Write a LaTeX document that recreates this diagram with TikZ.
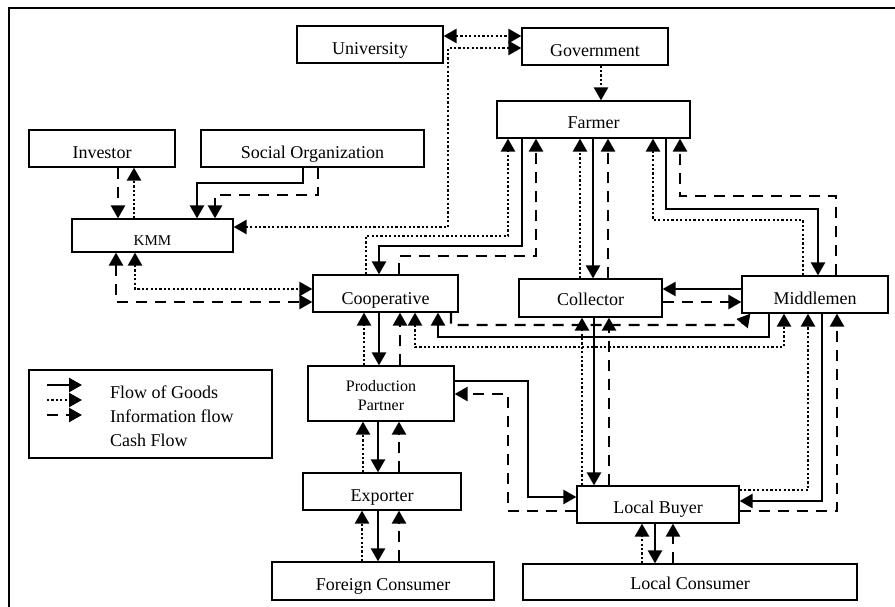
\documentclass[tikz,border=0pt]{standalone}
\usepackage{fontspec}
\setmainfont{Liberation Serif}
\usetikzlibrary{arrows.meta}
\begin{document}
\begin{tikzpicture}[x=1pt,y=-1pt,
  box/.style={draw,line width=1.2pt,inner sep=0pt},
  lbl/.style={anchor=base,inner sep=0pt,font=\fontsize{18}{20}\selectfont},
  goods/.style={line width=2.4pt},
  info/.style={line width=2.4pt,dash pattern=on 2.2pt off 2.2pt},
  cash/.style={line width=2.4pt,dash pattern=on 11pt off 8pt},
  >={Triangle[length=13pt,width=14pt]}]
\useasboundingbox (0,0) rectangle (895,607);
% outer frame
\draw[line width=1.3pt] (9,611) -- (9,8) -- (899,8);

% boxes
\node[box,minimum width=146,minimum height=37] (uni) at (370,44.5) {};
\node[box,minimum width=146,minimum height=37] (gov) at (595,46.5) {};
\node[box,minimum width=193,minimum height=37] (farmer) at (593.5,119.5) {};
\node[box,minimum width=146,minimum height=37] (investor) at (102,148.5) {};
\node[box,minimum width=223,minimum height=37] (socorg) at (312.5,148.5) {};
\node[box,minimum width=161,minimum height=33] (kmm) at (152.5,235.5) {};
\node[box,minimum width=145,minimum height=37] (coop) at (385.5,293.5) {};
\node[box,minimum width=143,minimum height=38] (collector) at (590.5,298) {};
\node[box,minimum width=146,minimum height=37] (middle) at (815,294.5) {};
\node[box,minimum width=146,minimum height=55] (pp) at (381,393.5) {};
\node[box,minimum width=158,minimum height=37] (exporter) at (382,491.5) {};
\node[box,minimum width=222,minimum height=38] (fc) at (383,581) {};
\node[box,minimum width=162,minimum height=37] (lb) at (658,504.5) {};
\node[box,minimum width=334,minimum height=36] (lc) at (690,582) {};
\node[box,minimum width=243,minimum height=88] (legend) at (150.5,414) {};

% labels
\node[lbl] at (370,54.5) {University};
\node[lbl] at (595,57) {Government};
\node[lbl] at (593.5,129) {Farmer};
\node[lbl] at (102,159) {Investor};
\node[lbl] at (312.5,159) {Social Organization};
\node[lbl,font=\fontsize{15}{17}\selectfont] at (152.5,245) {KMM};
\node[lbl] at (385.5,304) {Cooperative};
\node[lbl] at (590.5,305) {Collector};
\node[lbl] at (815,304) {Middlemen};
\node[lbl,font=\fontsize{16}{18}\selectfont] at (381,391) {Production};
\node[lbl,font=\fontsize{16}{18}\selectfont] at (381,410) {Partner};
\node[lbl] at (382,501) {Exporter};
\node[lbl] at (383,590) {Foreign Consumer};
\node[lbl] at (658,513) {Local Buyer};
\node[lbl] at (690,589) {Local Consumer};

% legend
\draw[goods,->] (47,385) -- (82,385);
\draw[info,->] (47,400) -- (82,400);
\draw[cash,->] (47,415) -- (82,415);
\node[lbl,anchor=base west] at (110,398) {Flow of Goods};
\node[lbl,anchor=base west] at (110,422) {Information flow};
\node[lbl,anchor=base west] at (110,446) {Cash Flow};

% university, government
\draw[info,<->] (uni.east |- 0,36) -- (gov.west |- 0,36);
\draw[info,<->] (gov.west |- 0,48) -- (448,48) |- (kmm.east |- 0,227);
\draw[info,->] (gov.south -| 601,0) -- (farmer.north -| 601,0);

% investor, social organization and KMM
\draw[cash,->] (investor.south -| 118,0) -- (kmm.north -| 118,0);
\draw[info,->] (kmm.north -| 134,0) -- (investor.south -| 134,0);
\draw[goods,->] (socorg.south -| 303,0) |- (197,183) -- (kmm.north -| 197,0);
\draw[cash,->] (socorg.south -| 318,0) |- (215,195) -- (kmm.north -| 215,0);
\draw[cash,<->] (kmm.south -| 116,0) |- (coop.west |- 0,302);
\draw[info,<->] (kmm.south -| 135,0) |- (coop.west |- 0,289);

% farmer and cooperative
\draw[goods,->] (farmer.south -| 522,0) |- (379,246) -- (coop.north -| 379,0);
\draw[cash,->] (coop.north -| 399,0) |- (536,256) -- (farmer.south -| 536,0);
\draw[info,->] (coop.north -| 366,0) |- (508,236) -- (farmer.south -| 508,0);

% farmer and collector
\draw[info,->] (collector.north -| 580,0) -- (farmer.south -| 580,0);
\draw[goods,->] (farmer.south -| 593,0) -- (collector.north -| 593,0);
\draw[cash,->] (collector.north -| 608,0) -- (farmer.south -| 608,0);

% farmer and middlemen
\draw[info,->] (middle.north -| 803,0) |- (653,220) -- (farmer.south -| 653,0);
\draw[goods,->] (farmer.south -| 666,0) |- (818,209) -- (middle.north -| 818,0);
\draw[cash,->] (middle.north -| 836,0) |- (680,196) -- (farmer.south -| 680,0);

% collector and middlemen
\draw[goods,->] (middle.west |- 0,289) -- (collector.east |- 0,289);
\draw[cash,->] (collector.east |- 0,302) -- (middle.west |- 0,302);

% cooperative and production partner
\draw[info,->] (pp.north -| 364,0) -- (coop.south -| 364,0);
\draw[goods,->] (coop.south -| 379,0) -- (pp.north -| 379,0);
\draw[cash,->] (pp.north -| 400,0) -- (coop.south -| 400,0);

% cooperative and middlemen
\draw[info,<->] (coop.south -| 415,0) |- (784,347) -- (middle.south -| 784,0);
\draw[goods,->] (middle.south -| 769,0) |- (438,337) -- (coop.south -| 438,0);
\draw[cash,->] (coop.south -| 451,0) |- (741,325) -- ([xshift=9]middle.south west);

% collector and local buyer
\draw[info,->] (lb.north -| 582,0) -- (collector.south -| 582,0);
\draw[goods,->] (collector.south -| 594,0) -- (lb.north -| 594,0);
\draw[cash,->] (lb.north -| 609,0) -- (collector.south -| 609,0);

% middlemen and local buyer
\draw[info,->] (lb.east |- 0,490) -| (middle.south -| 808,0);
\draw[goods,->] (middle.south -| 822,0) |- (lb.east |- 0,501);
\draw[cash,->] (lb.east |- 0,511) -| (middle.south -| 837,0);

% production partner and local buyer
\draw[goods,->] (pp.east |- 0,381) -| (528,497) -- (lb.west |- 0,497);
\draw[cash,->] (lb.west |- 0,511) -| (508,394) -- (pp.east |- 0,394);

% production partner and exporter
\draw[info,->] (exporter.north -| 363,0) -- (pp.south -| 363,0);
\draw[goods,->] (pp.south -| 378,0) -- (exporter.north -| 378,0);
\draw[cash,->] (exporter.north -| 399,0) -- (pp.south -| 399,0);

% exporter and foreign consumer
\draw[info,->] (fc.north -| 362,0) -- (exporter.south -| 362,0);
\draw[goods,->] (exporter.south -| 378,0) -- (fc.north -| 378,0);
\draw[cash,->] (fc.north -| 399,0) -- (exporter.south -| 399,0);

% local buyer and local consumer
\draw[info,->] (lc.north -| 642,0) -- (lb.south -| 642,0);
\draw[goods,->] (lb.south -| 655,0) -- (lc.north -| 655,0);
\draw[cash,->] (lc.north -| 673,0) -- (lb.south -| 673,0);
\end{tikzpicture}
\end{document}
